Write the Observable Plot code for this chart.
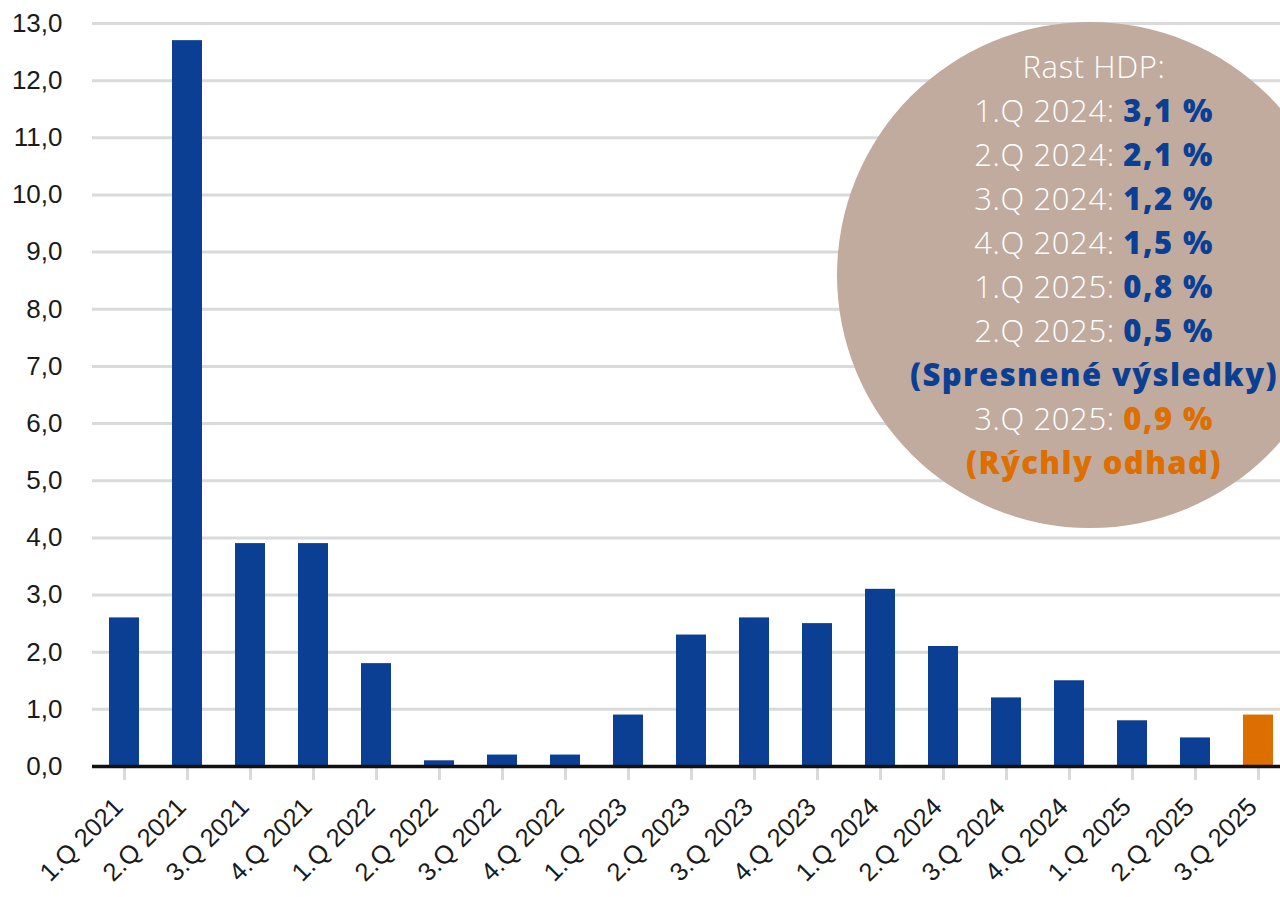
<!DOCTYPE html>
<html><head><meta charset="utf-8">
<script src="https://cdn.jsdelivr.net/npm/d3@7"></script>
<script src="https://cdn.jsdelivr.net/npm/@observablehq/plot@0.6"></script>
<style>html,body{margin:0;padding:0;background:#fff;overflow:hidden}</style>
</head><body><div id="chart"></div>
<script>
const quarters = ["1.Q 2021","2.Q 2021","3.Q 2021","4.Q 2021","1.Q 2022","2.Q 2022","3.Q 2022","4.Q 2022","1.Q 2023","2.Q 2023","3.Q 2023","4.Q 2023","1.Q 2024","2.Q 2024","3.Q 2024","4.Q 2024","1.Q 2025","2.Q 2025","3.Q 2025"];
const values = [2.6, 12.7, 3.9, 3.9, 1.8, 0.1, 0.2, 0.2, 0.9, 2.3, 2.6, 2.5, 3.1, 2.1, 1.2, 1.5, 0.8, 0.5, 0.9];
const estimateType = ["final","final","final","final","final","final","final","final","final","final","final","final","final","final","final","final","final","final","flash"];
const yTicks = [0,1,2,3,4,5,6,7,8,9,10,11,12,13];

const noteTitle = "Rast HDP:";
const noteLabels = ["1.Q 2024:", "2.Q 2024:", "3.Q 2024:", "4.Q 2024:", "1.Q 2025:", "2.Q 2025:"];
const noteValues = ["3,1 %", "2,1 %", "1,2 %", "1,5 %", "0,8 %", "0,5 %"];
const noteRevised = "(Spresnené výsledky)";
const noteFlashLabel = "3.Q 2025:";
const noteFlashValue = "0,9 %";
const noteFlash = "(Rýchly odhad)";

const BLUE = "#0b3f94", ORANGE = "#dc6f00", GRID = "#dadada", BEIGE = "#c1ab9e";
const data = quarters.map((q, i) => ({q, v: values[i], t: estimateType[i]}));
const fmt = d => d3.format(".1f")(d).replace(".", ",");

const W = 1280, H = 897;
const chart = Plot.plot({
  width: W, height: H,
  marginTop: 23, marginBottom: 131, marginLeft: 92, marginRight: 0,
  style: {fontFamily: "'Liberation Sans', Arial, sans-serif", background: "#fff", color: "#1a1a1a"},
  x: {domain: quarters, range: [92, 1290], paddingInner: 0.52, paddingOuter: 0.26, axis: null},
  y: {domain: [0, 13], axis: null},
  color: {domain: ["final","flash"], range: [BLUE, ORANGE]},
  marks: [
    Plot.gridY(yTicks, {stroke: GRID, strokeWidth: 3, strokeOpacity: 1}),
    Plot.axisY(yTicks, {tickSize: 0, tickPadding: 30, fontSize: 26, tickFormat: fmt, fill: "#1a1a1a", label: null}),
    Plot.axisX({tickSize: 14, tickFormat: () => "", stroke: GRID, strokeWidth: 3, strokeOpacity: 1, label: null}),
    Plot.barY(data, {x: "q", y: "v", fill: "t"}),
    Plot.ruleY([0], {stroke: "#111", strokeWidth: 3.5}),
    Plot.text(quarters, {x: d => d, frameAnchor: "bottom", rotate: -45, textAnchor: "end", dx: 0, dy: 42, fontSize: 25.5, fill: "#1a1a1a"})
  ]
});
document.getElementById("chart").appendChild(chart);

// annotation bubble
const svg = d3.select(chart);
const g = svg.append("g");
const cx = 1090, cy = 275, r = 253;
g.append("circle").attr("cx", cx).attr("cy", cy).attr("r", r).attr("fill", BEIGE);
const lines = [
  [{t: noteTitle, c: "#fff", w: 300}],
  ...noteLabels.map((l, i) => [{t: l + " ", c: "#fff", w: 300}, {t: noteValues[i], c: BLUE, w: 800}]),
  [{t: noteRevised, c: BLUE, w: 800}],
  [{t: noteFlashLabel + " ", c: "#fff", w: 300}, {t: noteFlashValue, c: ORANGE, w: 800}],
  [{t: noteFlash, c: ORANGE, w: 800}]
];
lines.forEach((segs, i) => {
  const tx = g.append("text")
    .attr("x", cx + 4).attr("y", 78 + i * 44)
    .attr("text-anchor", "middle")
    .attr("font-family", "'Open Sans', sans-serif")
    .attr("font-size", 31)
    .attr("xml:space", "preserve");
  segs.forEach(s => tx.append("tspan").attr("fill", s.c).attr("font-weight", s.w)
    .attr("letter-spacing", s.w > 500 ? 1.4 : 0.6).text(s.t));
});
</script>
</body></html>
